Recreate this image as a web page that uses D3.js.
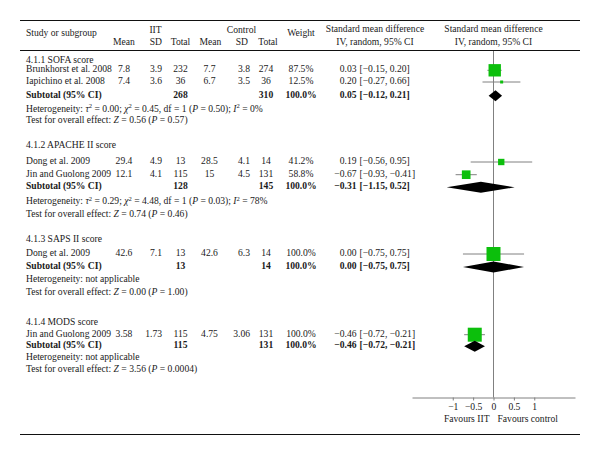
<!DOCTYPE html>
<html><head><meta charset="utf-8">
<script src="https://cdn.jsdelivr.net/npm/d3@7"></script>
<style>
html,body{margin:0;padding:0;background:#fff;}
svg text{font-family:"Liberation Serif","Times New Roman",serif;font-size:9.6px;fill:#1a1a1a;}
</style></head>
<body><svg id="c" width="600" height="455"></svg>
<script>
// ---------- data ----------
const subgroupNames = ["4.1.1 SOFA score", "4.1.2 APACHE II score", "4.1.3 SAPS II score", "4.1.4 MODS score"];
const studyNames = ["Brunkhorst et al. 2008", "Iapichino et al. 2008", "Dong et al. 2009", "Jin and Guolong 2009", "Dong et al. 2009", "Jin and Guolong 2009"];
const studyGroup = [0, 0, 1, 1, 2, 3];
const iitMean = ["7.8", "7.4", "29.4", "12.1", "42.6", "3.58"];
const iitSD = ["3.9", "3.6", "4.9", "4.1", "7.1", "1.73"];
const iitTotal = [232, 36, 13, 115, 13, 115];
const ctlMean = ["7.7", "6.7", "28.5", "15", "42.6", "4.75"];
const ctlSD = ["3.8", "3.5", "4.1", "4.5", "6.3", "3.06"];
const ctlTotal = [274, 36, 14, 131, 14, 131];
const studyWeight = [87.5, 12.5, 41.2, 58.8, 100.0, 100.0];
const studySMD = [0.03, 0.20, 0.19, -0.67, 0.00, -0.46];
const studyLow = [-0.15, -0.27, -0.56, -0.93, -0.75, -0.72];
const studyHigh = [0.20, 0.66, 0.95, -0.41, 0.75, -0.21];

const subIitTotal = [268, 128, 13, 115];
const subCtlTotal = [310, 145, 14, 131];
const subWeight = [100.0, 100.0, 100.0, 100.0];
const subSMD = [0.05, -0.31, 0.00, -0.46];
const subLow = [-0.12, -1.15, -0.75, -0.72];
const subHigh = [0.21, 0.52, 0.75, -0.21];

const hetTau2 = ["0.00", "0.29", null, null];
const hetChi2 = ["0.45", "4.48", null, null];
const hetDf = [1, 1, null, null];
const hetP = ["0.50", "0.03", null, null];
const hetI2 = ["0%", "78%", null, null];
const overallZ = ["0.56", "0.74", "0.00", "3.56"];
const overallP = ["0.57", "0.46", "1.00", "0.0004"];

const axisTicks = [-1, -0.5, 0, 0.5, 1];
const axisTickLabels = ["\u22121", "\u22120.5", "0", "0.5", "1"];

// ---------- layout ----------
const layout = [
  {head: 62.7, rows: [72.3, 84], sub: 97.7, het: 111.7, test: 123.3},
  {head: 148.3, rows: [164, 176.7], sub: 189.3, het: 204.3, test: 217.3},
  {head: 241.7, rows: [256], sub: 269, het: 281.7, test: 295},
  {head: 325, rows: [336.7], sub: 348.3, het: 360, test: 371.7}
];
const col = {left: 26, iitMean: 124, iitSD: 162, iitTot: 180.5, ctlMean: 209.5, ctlSD: 250, ctlTot: 266, weight: 301, est: 356.5, ci: 359.5};
const GREEN = "#0cbf0c", GRAY = "#808080";

const svg = d3.select("#c");
const x = d3.scaleLinear().domain([-2, 2]).range([412, 575]);
const sq = d3.scaleLinear().domain([0, 100]).range([1, 14]);
const fmtFixed = d3.format(".2f");
const fmtNum = v => (v < 0 ? "\u2212" : "") + fmtFixed(Math.abs(v));
const fmtW = d3.format(".1f");

function txt(xp, yp, s, anchor, bold) {
  return svg.append("text").attr("x", xp).attr("y", yp).attr("text-anchor", anchor || "start")
    .attr("font-weight", bold ? "bold" : null).text(s);
}

// rules
svg.append("line").attr("x1", 20).attr("x2", 580).attr("y1", 20.5).attr("y2", 20.5).attr("stroke", "#111").attr("stroke-width", 1.2);
svg.append("line").attr("x1", 20).attr("x2", 580).attr("y1", 50.5).attr("y2", 50.5).attr("stroke", "#111").attr("stroke-width", 1);
svg.append("line").attr("x1", 20).attr("x2", 580).attr("y1", 434.5).attr("y2", 434.5).attr("stroke", "#111").attr("stroke-width", 1.2);

// headers
txt(col.left, 36, "Study or subgroup");
txt(155.5, 32.5, "IIT", "middle");
txt(241.5, 32.5, "Control", "middle");
txt(124, 45, "Mean", "middle");
txt(col.iitSD, 45, "SD", "end");
txt(col.iitTot, 45, "Total", "middle");
txt(210.5, 45, "Mean", "middle");
txt(col.ctlSD - 2, 45, "SD", "end");
txt(268, 45, "Total", "middle");
txt(col.weight, 35.7, "Weight", "middle");
txt(375, 31.7, "Standard mean difference", "middle");
txt(375, 45, "IV, random, 95% CI", "middle");
txt(x(0), 31.7, "Standard mean difference", "middle");
txt(x(0), 45, "IV, random, 95% CI", "middle");

// zero line
svg.append("line").attr("x1", x(0)).attr("x2", x(0)).attr("y1", 51).attr("y2", 397.5)
  .attr("stroke", GRAY).attr("stroke-width", 1);

function ciText(yp, est, lo, hi, bold) {
  txt(col.est, yp, fmtNum(est), "end", bold);
  txt(col.ci, yp, "[" + fmtNum(lo) + ", " + fmtNum(hi) + "]", "start", bold);
}

subgroupNames.forEach((name, g) => {
  const L = layout[g];
  txt(col.left, L.head, name);
  const idx = studyGroup.map((s, i) => s === g ? i : -1).filter(i => i >= 0);
  idx.forEach((i, k) => {
    const yp = L.rows[k];
    txt(col.left, yp, studyNames[i]);
    txt(col.iitMean, yp, iitMean[i], "middle");
    txt(col.iitSD, yp, iitSD[i], "end");
    txt(col.iitTot, yp, iitTotal[i], "middle");
    txt(col.ctlMean, yp, ctlMean[i], "middle");
    txt(col.ctlSD, yp, ctlSD[i], "end");
    txt(col.ctlTot, yp, ctlTotal[i], "middle");
    txt(col.weight, yp, fmtW(studyWeight[i]) + "%", "middle");
    ciText(yp, studySMD[i], studyLow[i], studyHigh[i], false);
    const my = yp - 2;
    svg.append("line").attr("x1", x(studyLow[i])).attr("x2", x(studyHigh[i]))
      .attr("y1", my).attr("y2", my).attr("stroke", GRAY).attr("stroke-width", 1);
    const s = Math.max(3, sq(studyWeight[i]));
    svg.append("rect").attr("x", x(studySMD[i]) - s / 2).attr("y", my - s / 2)
      .attr("width", s).attr("height", s).attr("fill", GREEN);
  });
  // subtotal
  txt(col.left, L.sub, "Subtotal (95% CI)", "start", true);
  txt(col.iitTot, L.sub, subIitTotal[g], "middle", true);
  txt(col.ctlTot, L.sub, subCtlTotal[g], "middle", true);
  txt(col.weight, L.sub, fmtW(subWeight[g]) + "%", "middle", true);
  ciText(L.sub, subSMD[g], subLow[g], subHigh[g], true);
  const dy = L.sub - 2, h = 5.5;
  svg.append("path").attr("d", d3.line()([[x(subLow[g]), dy], [x(subSMD[g]), dy - h], [x(subHigh[g]), dy], [x(subSMD[g]), dy + h]]) + "Z")
    .attr("fill", "#000");
  // heterogeneity
  const ht = svg.append("text").attr("x", col.left).attr("y", L.het);
  if (hetTau2[g] === null) {
    ht.text("Heterogeneity: not applicable");
  } else {
    ht.append("tspan").text("Heterogeneity: ");
    ht.append("tspan").attr("font-style", "italic").text("\u03c4");
    ht.append("tspan").attr("font-size", "6.6px").attr("dy", -3.7).text("2");
    ht.append("tspan").attr("dy", 3.7).text(" = " + hetTau2[g] + "; ");
    ht.append("tspan").attr("font-style", "italic").text("\u03c7");
    ht.append("tspan").attr("font-size", "6.6px").attr("dy", -3.7).text("2");
    ht.append("tspan").attr("dy", 3.7).text(" = " + hetChi2[g] + ", df = " + hetDf[g] + " (");
    ht.append("tspan").attr("font-style", "italic").text("P");
    ht.append("tspan").text(" = " + hetP[g] + "); ");
    ht.append("tspan").attr("font-style", "italic").text("I");
    ht.append("tspan").attr("font-size", "6.6px").attr("dy", -3.7).text("2");
    ht.append("tspan").attr("dy", 3.7).text(" = " + hetI2[g]);
  }
  const tt = svg.append("text").attr("x", col.left).attr("y", L.test);
  tt.append("tspan").text("Test for overall effect: ");
  tt.append("tspan").attr("font-style", "italic").text("Z");
  tt.append("tspan").text(" = " + overallZ[g] + " (");
  tt.append("tspan").attr("font-style", "italic").text("P");
  tt.append("tspan").text(" = " + overallP[g] + ")");
});

// axis
const ax = svg.append("g").attr("transform", "translate(0,397.5)")
  .call(d3.axisBottom(x).tickValues(axisTicks).tickFormat((d, i) => axisTickLabels[i]).tickSize(3).tickSizeOuter(0).tickPadding(3));
ax.select(".domain").attr("stroke", GRAY);
ax.selectAll(".tick line").attr("stroke", GRAY);
ax.selectAll("text").attr("font-family", "Liberation Serif").attr("font-size", "9.6px").attr("fill", "#1a1a1a");
txt(x(0) - 4, 421.7, "Favours IIT", "end");
txt(x(0) + 4, 421.7, "Favours control", "start");
</script></body></html>
